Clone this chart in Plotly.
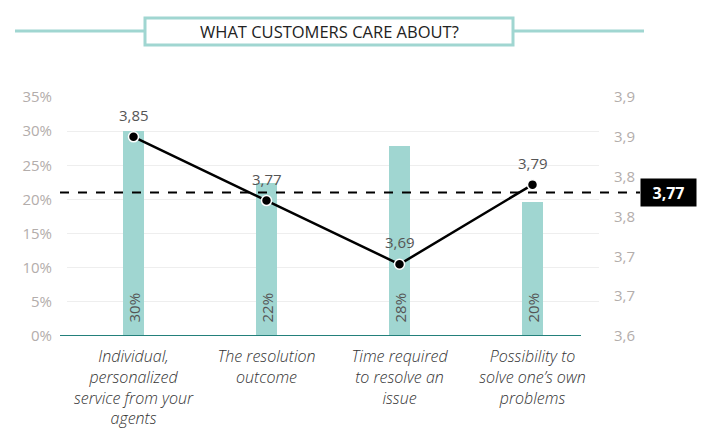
import plotly.graph_objects as go

# ---- data ----
categories = [
    "Individual,<br>personalized<br>service from your<br>agents",
    "The resolution<br>outcome",
    "Time required<br>to resolve an<br>issue",
    "Possibility to<br>solve one’s own<br>problems",
]
share_pct = [30.0, 22.4, 27.8, 19.6]
share_labels = ["30%", "22%", "28%", "20%"]
scores = [3.85, 3.77, 3.69, 3.79]
score_labels = ["3,85", "3,77", "3,69", "3,79"]
avg_score = 3.78
avg_label = "3,77"
left_ticks = [0, 5, 10, 15, 20, 25, 30, 35]
left_ticktext = ["0%", "5%", "10%", "15%", "20%", "25%", "30%", "35%"]
right_ticks = [3.60, 3.65, 3.70, 3.75, 3.80, 3.85, 3.90]
right_ticktext = ["3,6", "3,7", "3,7", "3,8", "3,8", "3,9", "3,9"]
title_text = "WHAT CUSTOMERS CARE ABOUT?"

# ---- layout geometry ----
W, H = 721, 443
L, R, T, B = 67, 122, 97, 107
PW, PH = W - L - R, H - T - B


def px_x(px):
    return (px - L) / PW


def px_y(py):
    return (H - B - py) / PH


TEAL = "#a0d6d1"
DARK_TEAL = "#23807b"
TICK_GRAY = "#b3adab"
FONT = "Open Sans"

xs = list(range(len(categories)))

fig = go.Figure()
fig.add_trace(go.Bar(
    x=xs, y=share_pct, width=0.16, marker=dict(color=TEAL, line=dict(width=0)),
    yaxis="y", hoverinfo="skip", showlegend=False,
))
fig.add_trace(go.Scatter(
    x=xs, y=scores, yaxis="y2", mode="lines+markers",
    line=dict(color="black", width=2.5),
    marker=dict(color="black", size=10, line=dict(color="white", width=1.5)),
    hoverinfo="skip", showlegend=False,
))

annotations = []
for x, v, t in zip(xs, share_pct, share_labels):
    annotations.append(dict(
        x=x, y=0, xref="x", yref="y", text=t, textangle=-90, showarrow=False,
        yanchor="bottom", xanchor="center", yshift=11,
        font=dict(family=FONT, size=15, color="#555555"),
    ))
for x, v, t in zip(xs, scores, score_labels):
    annotations.append(dict(
        x=x, y=v, xref="x", yref="y2", text=t, showarrow=False,
        yanchor="bottom", xanchor="center", yshift=10,
        font=dict(family=FONT, size=15, color="#555555"),
    ))
annotations.append(dict(
    x=px_x(640), y=avg_score, xref="paper", yref="y2", text="<b>" + avg_label + "</b>",
    showarrow=False, xanchor="left", yanchor="middle", bgcolor="black",
    width=55, height=27, borderpad=0,
    font=dict(family=FONT, size=16, color="white"),
))
annotations.append(dict(
    x=px_x(329), y=px_y(31), xref="paper", yref="paper", text=title_text,
    showarrow=False, xanchor="center", yanchor="middle",
    font=dict(family=FONT, size=16.5, color="#222222"),
))

shapes = [
    # title decoration lines
    dict(type="line", xref="paper", yref="paper", x0=px_x(15), x1=px_x(145),
         y0=px_y(31), y1=px_y(31), line=dict(color=TEAL, width=3)),
    dict(type="line", xref="paper", yref="paper", x0=px_x(513), x1=px_x(644),
         y0=px_y(31), y1=px_y(31), line=dict(color=TEAL, width=3)),
    dict(type="rect", xref="paper", yref="paper", x0=px_x(145), x1=px_x(513),
         y0=px_y(45), y1=px_y(18), line=dict(color=TEAL, width=3), fillcolor="white"),
    # x axis line
    dict(type="line", xref="paper", yref="y", x0=px_x(60), x1=px_x(581),
         y0=0, y1=0, line=dict(color=DARK_TEAL, width=2)),
    # average dashed line
    dict(type="line", xref="paper", yref="y2", x0=px_x(60), x1=px_x(640),
         y0=avg_score, y1=avg_score, line=dict(color="black", width=2, dash="dash")),
]

fig.update_layout(
    width=W, height=H,
    margin=dict(l=L, r=R, t=T, b=B, pad=0),
    paper_bgcolor="white", plot_bgcolor="white",
    font=dict(family=FONT),
    bargap=0,
    xaxis=dict(
        range=[-0.5, 3.5], tickvals=xs, ticktext=categories,
        showgrid=False, zeroline=False, showline=False, ticks="",
        tickfont=dict(family=FONT, size=16, color="#333333", style="italic", weight=300),
        ticklabelstandoff=9,
    ),
    yaxis=dict(
        range=[0, 35], tickvals=left_ticks, ticktext=left_ticktext,
        showgrid=True, gridcolor="#eeeeee", gridwidth=1, zeroline=False,
        showline=False, ticks="",
        tickfont=dict(family=FONT, size=15, color=TICK_GRAY),
        ticklabelstandoff=14,
    ),
    yaxis2=dict(
        range=[3.6, 3.9], tickvals=right_ticks, ticktext=right_ticktext,
        overlaying="y", side="right", showgrid=False, zeroline=False,
        showline=False, ticks="",
        tickfont=dict(family=FONT, size=15, color=TICK_GRAY),
        ticklabelstandoff=14,
    ),
    annotations=annotations,
    shapes=shapes,
)

fig.write_html("out.html")
